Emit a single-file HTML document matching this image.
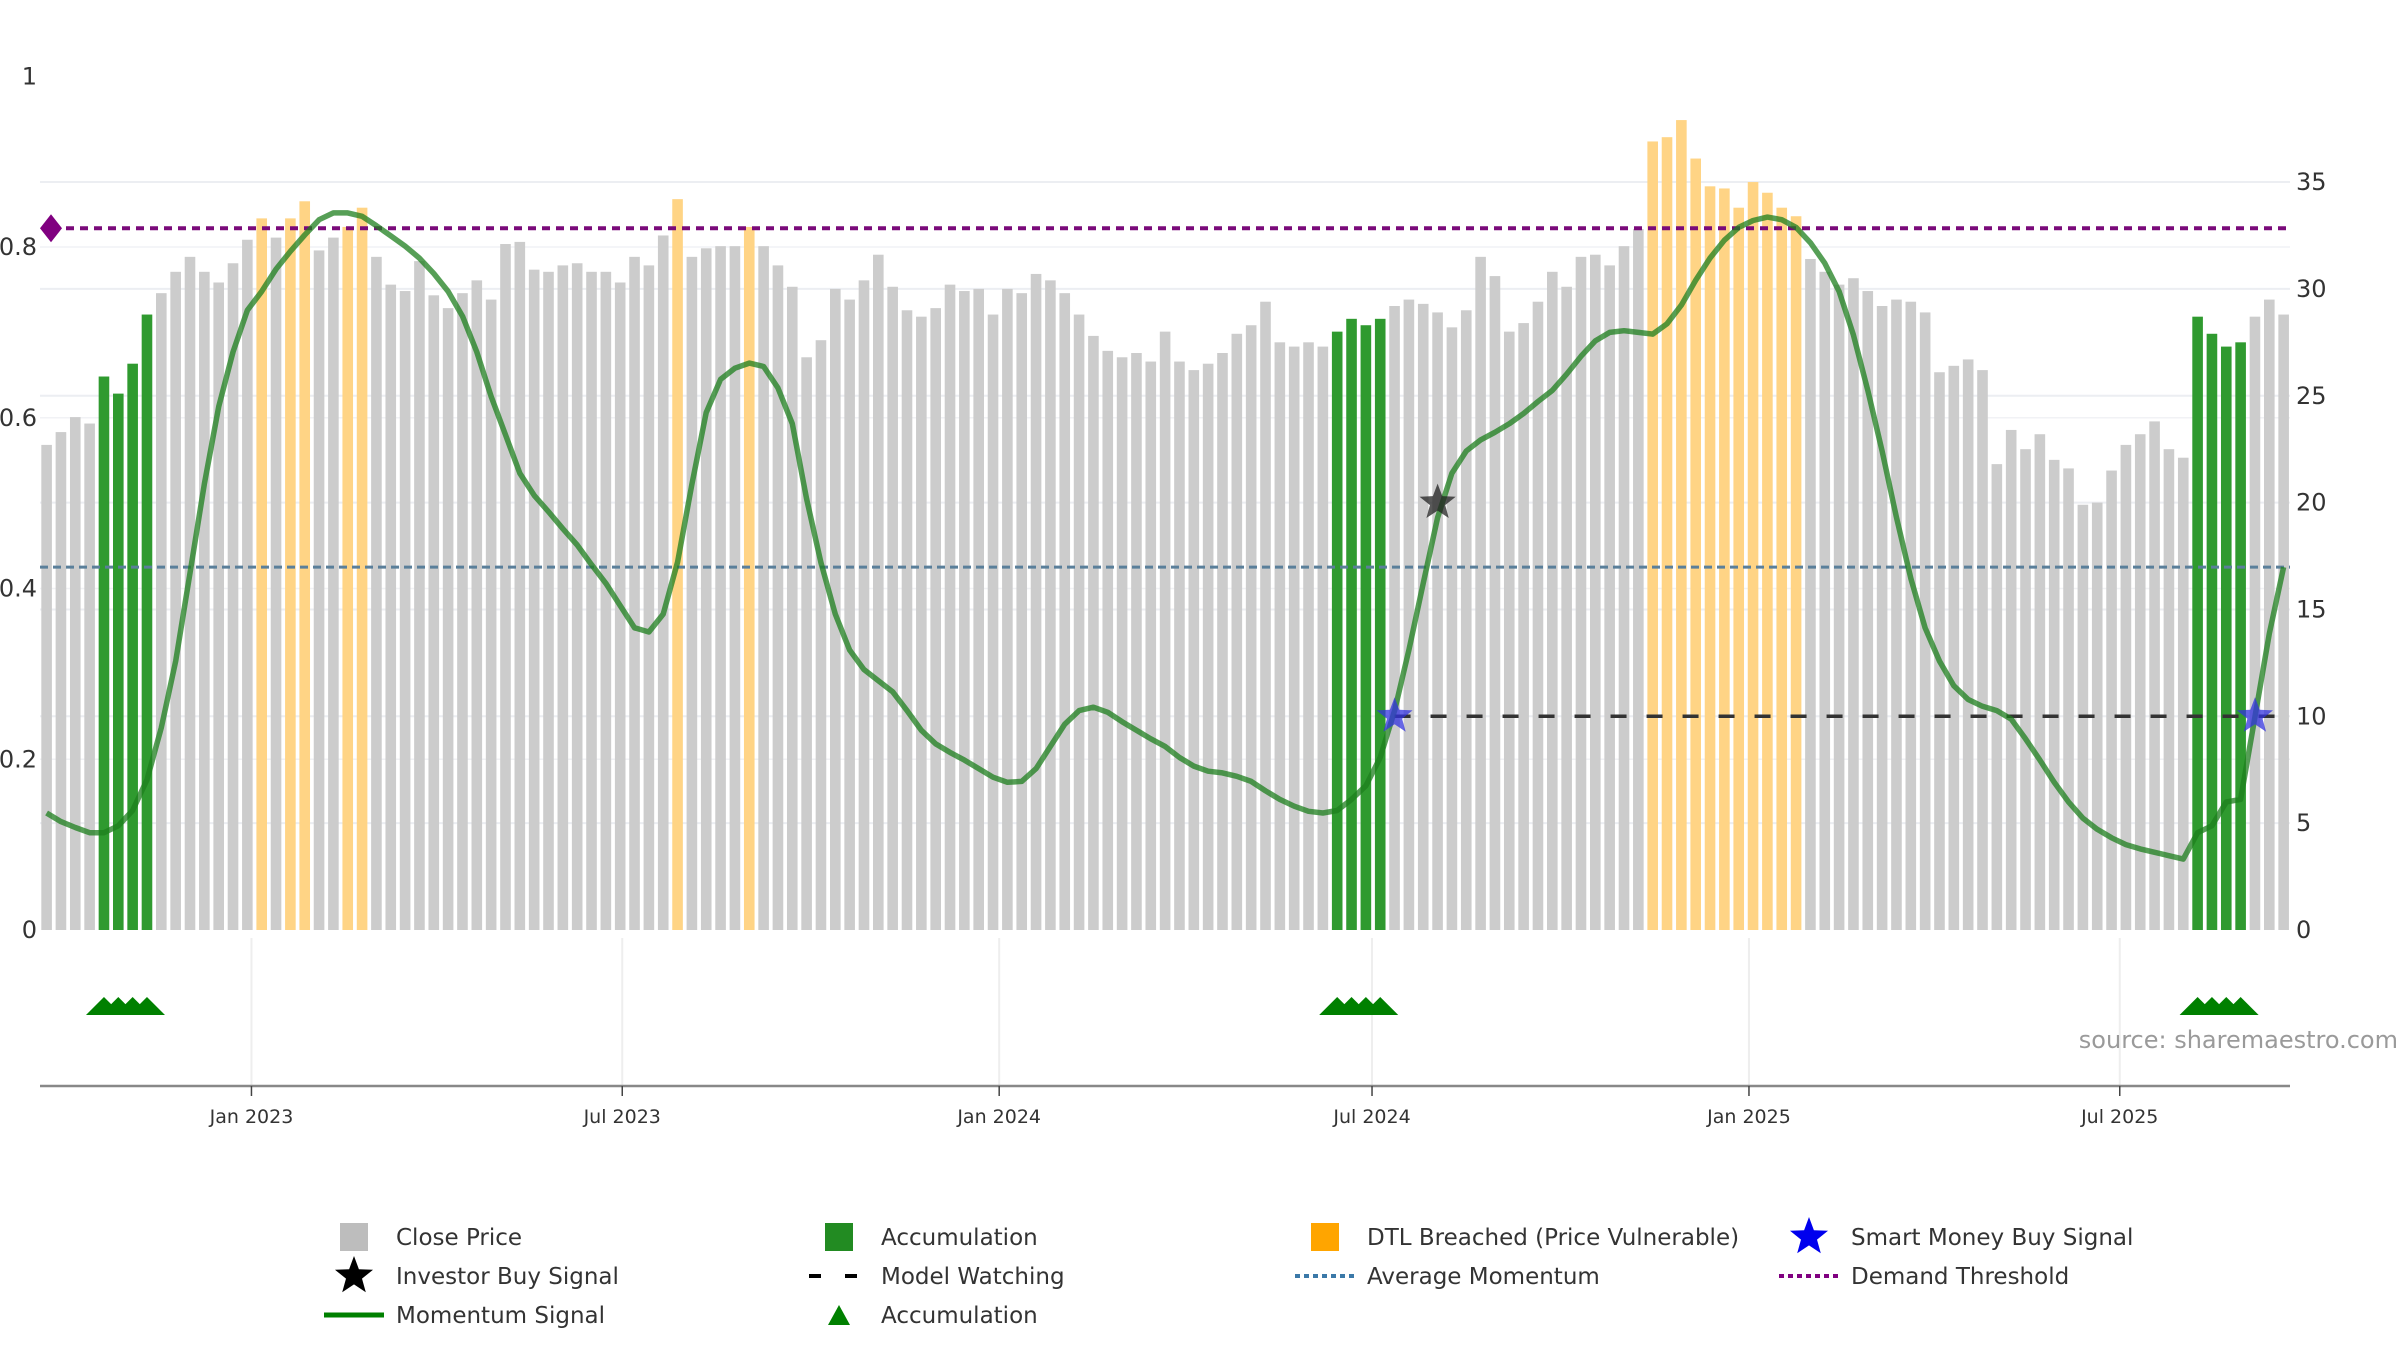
<!DOCTYPE html>
<html><head><meta charset="utf-8"><style>
html,body{margin:0;padding:0;background:#fff;}
svg{display:block;font-family:"DejaVu Sans","Liberation Sans",sans-serif;}
</style></head><body>
<svg id="chart" width="2400" height="1350" viewBox="0 0 2400 1350" xmlns="http://www.w3.org/2000/svg">
<g id="grid"></g>
<g id="bars"></g>
<g id="lines"></g>
<g id="momentum"></g>
<g id="markers"></g>
<g id="axes"></g>
<text x="2398" y="1048" text-anchor="end" font-size="24" fill="#9a9a9a">source: sharemaestro.com</text>
<g id="legend"></g>
</svg>
<script>
const closePrice = [22.7,23.3,24.0,23.7,25.9,25.1,26.5,28.8,29.8,30.8,31.5,30.8,30.3,31.2,32.3,33.3,32.4,33.3,34.1,31.8,32.4,32.9,33.8,31.5,30.2,29.9,31.3,29.7,29.1,29.8,30.4,29.5,32.1,32.2,30.9,30.8,31.1,31.2,30.8,30.8,30.3,31.5,31.1,32.5,34.2,31.5,31.9,32.0,32.0,32.9,32.0,31.1,30.1,26.8,27.6,30.0,29.5,30.4,31.6,30.1,29.0,28.7,29.1,30.2,29.9,30.0,28.8,30.0,29.8,30.7,30.4,29.8,28.8,27.8,27.1,26.8,27.0,26.6,28.0,26.6,26.2,26.5,27.0,27.9,28.3,29.4,27.5,27.3,27.5,27.3,28.0,28.6,28.3,28.6,29.2,29.5,29.3,28.9,28.2,29.0,31.5,30.6,28.0,28.4,29.4,30.8,30.1,31.5,31.6,31.1,32.0,32.8,36.9,37.1,37.9,36.1,34.8,34.7,33.8,35.0,34.5,33.8,33.4,31.4,30.8,30.2,30.5,29.9,29.2,29.5,29.4,28.9,26.1,26.4,26.7,26.2,21.8,23.4,22.5,23.2,22.0,21.6,19.9,20.0,21.5,22.7,23.2,23.8,22.5,22.1,28.7,27.9,27.3,27.5,28.7,29.5,28.8];
const momentum = [0.137,0.127,0.120,0.114,0.114,0.122,0.140,0.176,0.237,0.315,0.418,0.522,0.613,0.677,0.726,0.748,0.774,0.795,0.814,0.832,0.840,0.840,0.836,0.825,0.813,0.801,0.787,0.769,0.748,0.719,0.677,0.625,0.580,0.535,0.509,0.490,0.470,0.451,0.428,0.406,0.380,0.354,0.349,0.370,0.431,0.522,0.606,0.645,0.658,0.664,0.660,0.635,0.593,0.505,0.430,0.370,0.328,0.305,0.292,0.279,0.257,0.234,0.218,0.208,0.199,0.189,0.179,0.173,0.174,0.189,0.215,0.241,0.257,0.261,0.255,0.244,0.234,0.224,0.215,0.202,0.192,0.186,0.184,0.180,0.174,0.163,0.153,0.145,0.139,0.137,0.140,0.153,0.169,0.202,0.257,0.328,0.406,0.483,0.535,0.561,0.574,0.583,0.593,0.605,0.619,0.632,0.651,0.672,0.690,0.700,0.702,0.700,0.698,0.710,0.732,0.761,0.787,0.808,0.823,0.831,0.835,0.832,0.823,0.805,0.781,0.748,0.697,0.632,0.561,0.483,0.412,0.354,0.315,0.286,0.270,0.262,0.257,0.247,0.224,0.199,0.173,0.150,0.131,0.118,0.108,0.100,0.095,0.091,0.087,0.083,0.114,0.122,0.150,0.153,0.250,0.347,0.425];
const accumulationBars = [5,6,7,8,91,92,93,94,151,152,153,154];
const dtlBreachedBars = [16,18,19,22,23,45,50,113,114,115,116,117,118,119,120,121,122,123];
const smartMoneyBars = [95,155];
const smartMoneyValue = 10;
const investorBuyBars = [98];
const investorBuyValue = 20;
const modelWatchingStart = 95;
const modelWatchingValue = 10;
const averageMomentum = 0.425;
const demandThreshold = 0.822;
const rightTicks = [0,5,10,15,20,25,30,35];
const leftTicks = [0,0.2,0.4,0.6,0.8,1];
const leftTickLabels = ['0','0.2','0.4','0.6','0.8','1'];
const dateTicks = ['2023-01-01','2023-07-01','2024-01-01','2024-07-01','2025-01-01','2025-07-01'];
const dateTickLabels = ['Jan 2023','Jul 2023','Jan 2024','Jul 2024','Jan 2025','Jul 2025'];
const firstBarDate = '2022-09-23';

const NS='http://www.w3.org/2000/svg';
const X0=46.6, PITCH=14.34, PLOT_L=40, PLOT_R=2290, Y0=930;
const xBar=i=>X0+(i-1)*PITCH;
const yR=v=>Y0-v*21.37;
const yL=v=>Y0-v*853.75;
const dayPx=PITCH/7;
const xDate=s=>X0+(new Date(s)-new Date(firstBarDate))/86400000*dayPx;
function el(tag,attrs,parent,txt){const e=document.createElementNS(NS,tag);for(const k in attrs)e.setAttribute(k,attrs[k]);if(txt!==undefined)e.textContent=txt;parent.appendChild(e);return e;}
function starPts(cx,cy,r){let p=[];for(let k=0;k<10;k++){const a=-Math.PI/2+k*Math.PI/5;const rr=k%2?r*0.42:r;p.push((cx+rr*Math.cos(a)).toFixed(1)+','+(cy+rr*Math.sin(a)).toFixed(1));}return p.join(' ');}
const G=id=>document.getElementById(id);

// grid
const grid=G('grid');
rightTicks.slice(1).forEach(t=>{const l=el('line',{x1:PLOT_L,x2:PLOT_R,y1:yR(t),y2:yR(t),stroke:'#eceef2','stroke-width':2},grid);

});
leftTicks.slice(1,5).forEach(t=>{const l=el('line',{x1:PLOT_L,x2:PLOT_R,y1:yL(t),y2:yL(t),stroke:'#f1f2f5','stroke-width':1.5},grid);

});
dateTicks.forEach(d=>{const l=el('line',{x1:xDate(d),x2:xDate(d),y1:938,y2:1086,stroke:'#eeeeee','stroke-width':2},grid);

});

// bars
const bars=G('bars');
closePrice.forEach((v,k)=>{const i=k+1;let fill='#cccccc';
if(accumulationBars.includes(i))fill='#2f9a2f';else if(dtlBreachedBars.includes(i))fill='#ffd485';
const r=el('rect',{x:xBar(i)-5.3,y:yR(v),width:10.6,height:Y0-yR(v),fill:fill},bars);

});

// reference lines
const lines=G('lines');
let a=el('line',{x1:PLOT_L,x2:PLOT_R,y1:yL(averageMomentum),y2:yL(averageMomentum),stroke:'#5a7f9a','stroke-width':3,'stroke-dasharray':'8,5'},lines);


let d=el('line',{x1:PLOT_L+12,x2:PLOT_R,y1:yL(demandThreshold),y2:yL(demandThreshold),stroke:'#7a0a7a','stroke-width':4,'stroke-dasharray':'8,6'},lines);


let dm=el('polygon',{points:`${PLOT_L},${yL(demandThreshold)} ${PLOT_L+11},${yL(demandThreshold)-14} ${PLOT_L+22},${yL(demandThreshold)} ${PLOT_L+11},${yL(demandThreshold)+14}`,fill:'#800080'},lines);


let mw=el('line',{x1:xBar(modelWatchingStart),x2:PLOT_R,y1:yR(modelWatchingValue),y2:yR(modelWatchingValue),stroke:'#333','stroke-width':3.5,'stroke-dasharray':'16,20'},lines);



// momentum
const mom=G('momentum');
const pts=momentum.map((v,k)=>xBar(k+1).toFixed(1)+','+yL(v).toFixed(1)).join(' ');
let ml=el('polyline',{points:pts,fill:'none',stroke:'#1e7f1e','stroke-opacity':0.75,'stroke-width':5.5,'stroke-linejoin':'round'},mom);



// markers
const mk=G('markers');
smartMoneyBars.forEach(i=>{const s=el('polygon',{points:starPts(xBar(i),yR(smartMoneyValue),19),fill:'#3333dd','fill-opacity':0.75},mk);

});
investorBuyBars.forEach(i=>{const s=el('polygon',{points:starPts(xBar(i),yR(investorBuyValue),19),fill:'#222','fill-opacity':0.75},mk);

});
accumulationBars.forEach(i=>{const cx=xBar(i);const t=el('polygon',{points:`${cx-18},1015 ${cx},997 ${cx+18},1015`,fill:'#008000'},mk);

});

// axes
const ax=G('axes');
let xl=el('line',{x1:PLOT_L,x2:PLOT_R,y1:1086,y2:1086,stroke:'#888','stroke-width':2.5},ax);


dateTicks.forEach((dt,k)=>{const x=xDate(dt);
const tk=el('line',{x1:x,x2:x,y1:1086,y2:1096,stroke:'#444','stroke-width':1.5},ax);


const t=el('text',{x:x,y:1123,'text-anchor':'middle','font-size':19,fill:'#333'},ax,dateTickLabels[k]);

});
leftTicks.forEach((v,k)=>{const t=el('text',{x:37,y:yL(v)+8,'text-anchor':'end','font-size':24,fill:'#333'},ax,leftTickLabels[k]);

});
rightTicks.forEach(v=>{const t=el('text',{x:2296,y:yR(v)+8,'text-anchor':'start','font-size':24,fill:'#333'},ax,String(v));

});

// legend
const lg=G('legend');
const cols=[354,839,1325,1809], rows=[1237,1276,1315];
const items=[
 ['Close Price','rect','#bdbdbd',0,0],['Accumulation','rect','#228b22',1,0],['DTL Breached (Price Vulnerable)','rect','#ffa500',2,0],['Smart Money Buy Signal','star','#0000ee',3,0],
 ['Investor Buy Signal','star','#000',0,1],['Model Watching','dash','#000',1,1],['Average Momentum','dot','#3b79a8',2,1],['Demand Threshold','dot','#800080',3,1],
 ['Momentum Signal','line','#008000',0,2],['Accumulation','tri','#008000',1,2]];
items.forEach(([label,type,col,c,r])=>{const g=el('g',{},lg);


const cx=cols[c], cy=rows[r];
if(type==='rect')el('rect',{x:cx-14,y:cy-14,width:28,height:28,fill:col},g);
else if(type==='star')el('polygon',{points:starPts(cx,cy,20),fill:col},g);
else if(type==='dash'){el('line',{x1:cx-30,x2:cx+30,y1:cy,y2:cy,stroke:col,'stroke-width':4,'stroke-dasharray':'12,24,12'},g);}
else if(type==='dot')el('line',{x1:cx-30,x2:cx+30,y1:cy,y2:cy,stroke:col,'stroke-width':4,'stroke-dasharray':'5,4'},g);
else if(type==='line')el('line',{x1:cx-30,x2:cx+30,y1:cy,y2:cy,stroke:col,'stroke-width':5},g);
else if(type==='tri')el('polygon',{points:`${cx-11},${cy+10} ${cx},${cy-10} ${cx+11},${cy+10}`,fill:col},g);
el('text',{x:cx+42,y:cy+8,'font-size':23,fill:'#333'},g,label);});
</script>
</body></html>
